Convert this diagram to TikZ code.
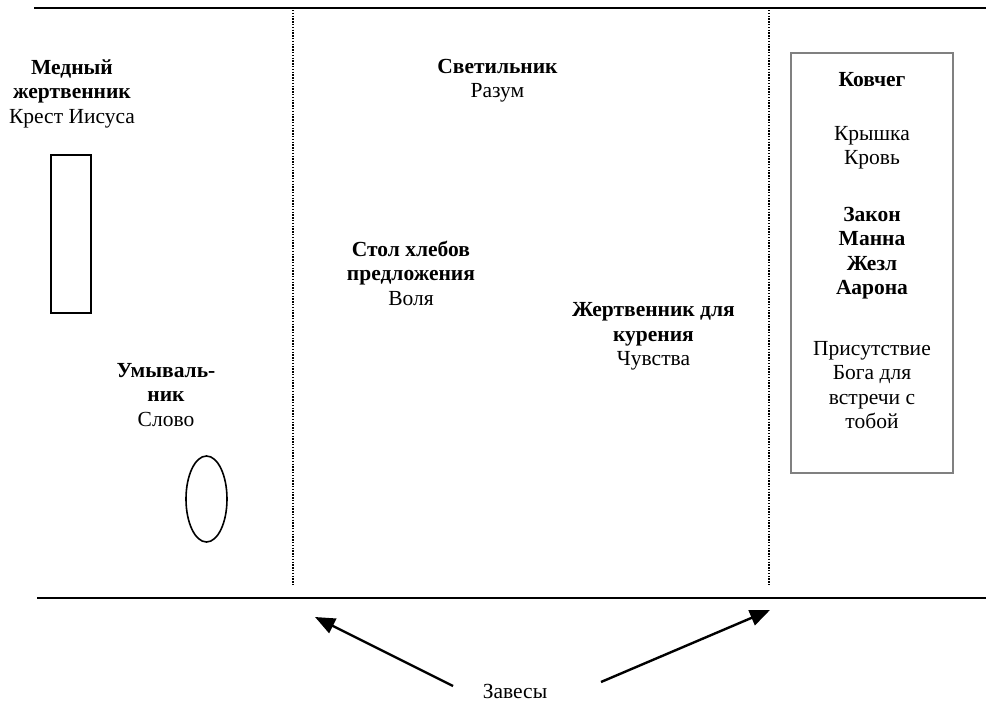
\documentclass[tikz,border=0pt]{standalone}
\usepackage{fontspec}
\setmainfont{Liberation Serif}
\usetikzlibrary{arrows.meta,shapes.geometric}
\begin{document}
\begin{tikzpicture}[x=1pt,y=-1pt,
  txt/.style={inner sep=0pt,align=center,anchor=base,font=\fontsize{21.5}{24.5}\selectfont},
  wall/.style={line width=2pt},
  curtain/.style={line width=1.6pt,dash pattern=on 1.4pt off 1.4pt},
  obj/.style={draw,line width=1.6pt},
  arr/.style={line width=2.4pt,-{Triangle[length=20pt,width=16pt]}}]
\useasboundingbox (0,0) rectangle (986,704);
% walls
\coordinate (tl) at (34,8); \coordinate (tr) at (986,8);
\coordinate (bl) at (37,598); \coordinate (br) at (986,598);
\draw[wall] (tl) -- (tr);
\draw[wall] (bl) -- (br);
% curtains
\coordinate (c1t) at (293,10); \coordinate (c1b) at (293,585);
\coordinate (c2t) at (769,10); \coordinate (c2b) at (769,585);
\draw[curtain] (c1t) -- (c1b);
\draw[curtain] (c2t) -- (c2b);
% objects
\node[obj,minimum width=40pt,minimum height=158pt,inner sep=0pt] (altar) at (71,234) {};
\node[obj,ellipse,minimum width=41pt,minimum height=86pt,inner sep=0pt] (laver) at (206.5,499) {};
\node[draw=black!50,line width=2pt,minimum width=162pt,minimum height=420pt,inner sep=0pt] (arkbox) at (872,263) {};
% texts (anchored at the baseline of the last line)
\node[txt] (t1) at (72,123) {\textbf{Медный}\\\textbf{жертвенник}\\Крест Иисуса};
\node[txt] (t2) at (497.5,97.5) {\textbf{Светильник}\\Разум};
\node[txt] (t3) at (411,305) {\textbf{Стол хлебов}\\\textbf{предложения}\\Воля};
\node[txt] (t4) at (653.5,365.5) {\textbf{Жертвенник для}\\\textbf{курения}\\Чувства};
\node[txt] (t5) at (166,426) {\textbf{Умываль-}\\\textbf{ник}\\Слово};
\node[txt] (a1) at (872,86) {\textbf{Ковчег}};
\node[txt] (a2) at (872,164.5) {Крышка\\Кровь};
\node[txt] (a3) at (872,294.5) {\textbf{Закон}\\\textbf{Манна}\\\textbf{Жезл}\\\textbf{Аарона}};
\node[txt] (a4) at (872,428.5) {Присутствие\\Бога для\\встречи с\\тобой};
\node[txt] (zav) at (515,698) {Завесы};
% arrows
\coordinate (s1) at (453,686); \coordinate (h1) at (315,617);
\coordinate (s2) at (601,682); \coordinate (h2) at (770,610);
\draw[arr] (s1) -- (h1);
\draw[arr] (s2) -- (h2);
\end{tikzpicture}
\end{document}
